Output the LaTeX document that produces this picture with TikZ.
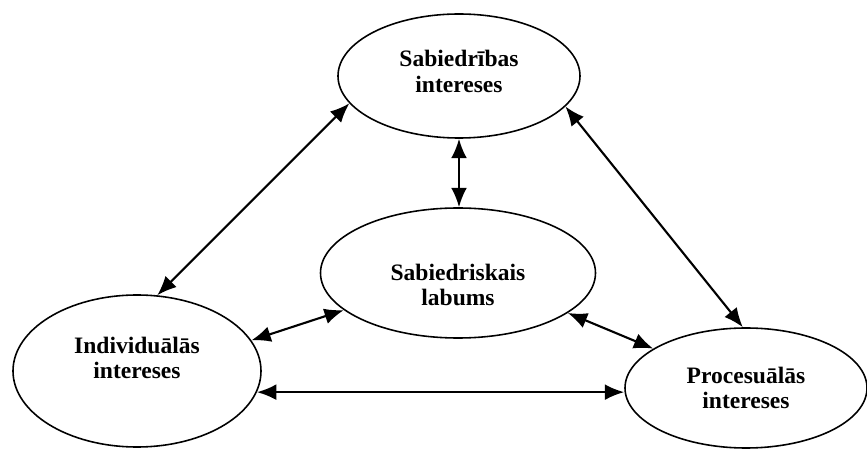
\documentclass[tikz,border=0pt]{standalone}
\usepackage{fontspec}
\setmainfont{Liberation Serif}
\usetikzlibrary{shapes.geometric, arrows.meta}

\tikzset{
    bubble/.style={ellipse, draw, line width=0.9pt, inner sep=0pt},
    tag/.style={align=center, inner sep=0pt, font=\bfseries\fontsize{13.4}{14.7}\selectfont},
    twoway/.style={line width=1.2pt, {Latex[length=11pt,width=9pt]}-{Latex[length=11pt,width=9pt]}}
}

\begin{document}
\begin{tikzpicture}
    \useasboundingbox (0, 0) rectangle (17.34, -9.04);

    % Draw the four interests
    \node[bubble, minimum width=4.84cm, minimum height=2.48cm,
        label={[tag, yshift=2.5pt]center:Sabiedrības\\intereses}] (sab) at (9.18, -1.52) {};
    \node[bubble, minimum width=5.5cm, minimum height=2.6cm,
        label={[tag, yshift=-6.8pt]center:Sabiedriskais\\labums}] (lab) at (9.16, -5.46) {};
    \node[bubble, minimum width=4.96cm, minimum height=3.04cm,
        label={[tag, yshift=7.4pt]center:Individuālās\\intereses}] (ind) at (2.74, -7.42) {};
    \node[bubble, minimum width=4.84cm, minimum height=2.4cm,
        label={[tag]center:Procesuālās\\intereses}] (pro) at (14.92, -7.76) {};

    % Outer triangle
    \draw[twoway] (sab.194.6) -- (ind.75.8);
    \draw[twoway] (sab.344.4) -- (pro.93.6);
    \draw[twoway] (ind.350.2) -- (ind.350.2 -| pro.west);

    % Links to the common good
    \draw[twoway] (sab.south) -- (sab.south |- lab.north);
    \draw[twoway] (lab.198.4) -- (ind.15.9);
    \draw[twoway] (lab.340.3) -- (pro.157.8);

\end{tikzpicture}
\end{document}
